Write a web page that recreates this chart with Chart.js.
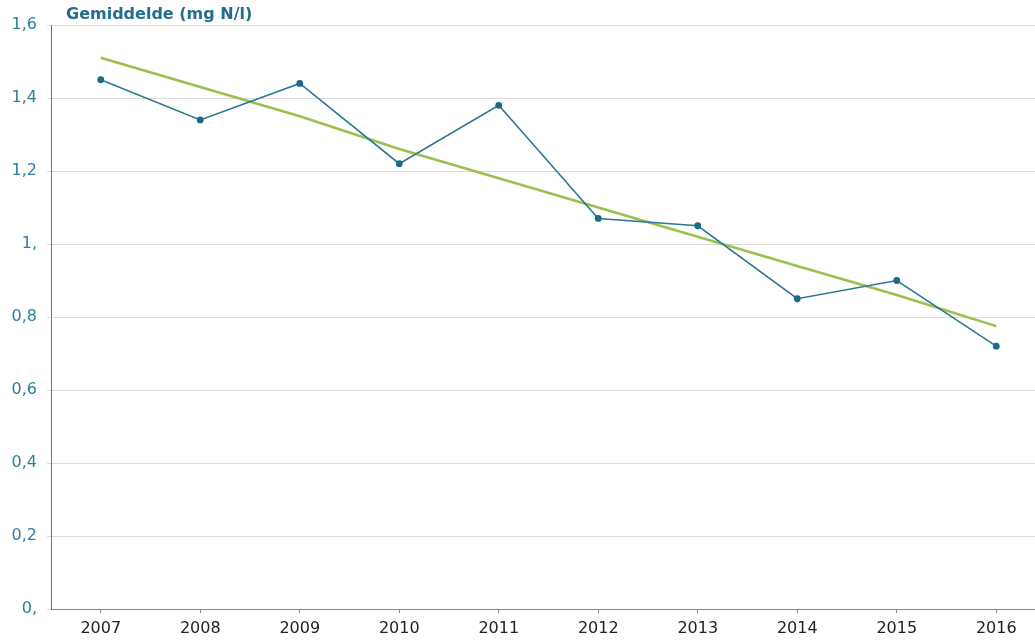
<!DOCTYPE html>
<html>
<head>
<meta charset="utf-8">
<script src="https://cdn.jsdelivr.net/npm/chart.js@4/dist/chart.umd.min.js"></script>
<style>
html,body{margin:0;padding:0;background:#fff;overflow:hidden;}
#wrap{width:1035px;height:641px;position:relative;overflow:hidden;}
</style>
</head>
<body>
<div id="wrap"><canvas id="c" width="1050" height="641"></canvas></div>
<script>
const years = ['2007','2008','2009','2010','2011','2012','2013','2014','2015','2016'];
const gemiddelde = [1.45,1.34,1.44,1.22,1.38,1.07,1.05,0.85,0.90,0.72];
const trend = [1.51,1.43,1.35,1.26,1.18,1.10,1.02,0.94,0.86,0.775];
const yTickLabels = ['0,','0,2','0,4','0,6','0,8','1,','1,2','1,4','1,6'];
const titleText = 'Gemiddelde (mg N/l)';

const titlePlugin = {
  id: 'topTitle',
  afterDraw(chart) {
    const ctx = chart.ctx;
    ctx.save();
    ctx.font = 'bold 16px "DejaVu Sans"';
    ctx.fillStyle = '#236e8a';
    ctx.textBaseline = 'middle';
    ctx.textAlign = 'left';
    ctx.fillText(titleText, 66, 15);
    ctx.restore();
  }
};

new Chart(document.getElementById('c'), {
  type: 'line',
  data: {
    labels: years,
    datasets: [
      {
        data: gemiddelde,
        borderColor: '#2b7893',
        borderWidth: 1.6,
        pointRadius: 3.4,
        pointBackgroundColor: '#1b6a88',
        pointBorderColor: '#1b6a88',
        pointBorderWidth: 0,
        tension: 0,
        order: 1
      },
      {
        data: trend,
        borderColor: '#9cbf4f',
        borderWidth: 2.6,
        pointRadius: 0,
        tension: 0,
        order: 2
      }
    ]
  },
  options: {
    responsive: false,
    animation: false,
    devicePixelRatio: 1,
    layout: { padding: { top: 25, right: 0, left: 0, bottom: 0 } },
    plugins: { legend: { display: false }, tooltip: { enabled: false } },
    scales: {
      x: {
        offset: true,
        afterFit(scale) { scale.height = 32; },
        grid: { display: true, offset: false, drawOnChartArea: false, tickLength: 4, color: '#888' },
        border: { color: '#888', width: 1 },
        ticks: { color: '#222', font: { family: 'DejaVu Sans', size: 16 }, padding: 6, maxRotation: 0 }
      },
      y: {
        min: 0, max: 1.6,
        afterFit(scale) { scale.width = 51; },
        grid: { color: '#dcdcdc', tickLength: 4, lineWidth: 1 },
        border: { color: '#3a84a0', width: 1 },
        ticks: {
          stepSize: 0.2,
          color: '#2f7f9b',
          font: { family: 'DejaVu Sans', size: 16 },
          padding: 10,
          callback: function(v, i) { return yTickLabels[i]; }
        }
      }
    }
  },
  plugins: [titlePlugin]
});
</script>
</body>
</html>
